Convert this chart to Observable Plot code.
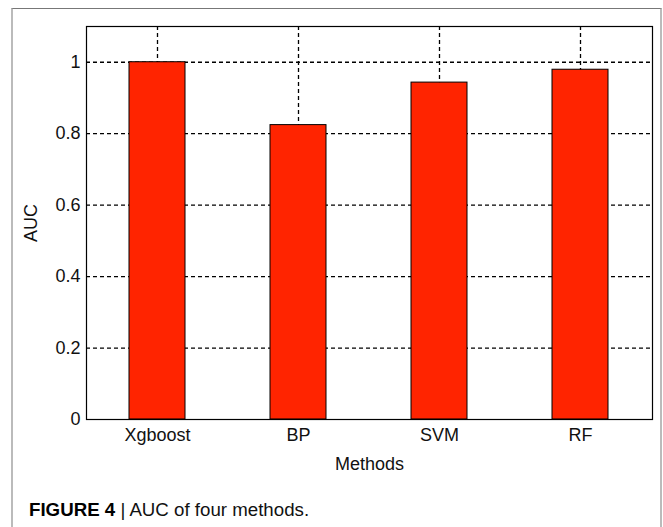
<!DOCTYPE html>
<html>
<head>
<meta charset="utf-8">
<script src="https://cdn.jsdelivr.net/npm/d3@7"></script>
<script src="https://cdn.jsdelivr.net/npm/@observablehq/plot@0.6"></script>
<style>
  html, body { margin: 0; padding: 0; background: #fff; }
  #wrap { position: relative; width: 663px; height: 527px; overflow: hidden; background: #fff; font-family: "Liberation Sans", Arial, sans-serif; }
  #box { position: absolute; left: 11px; top: 8px; width: 647px; height: 600px; border-top: 1px solid #777; border-left: 2px solid #bbb; border-right: 2px solid #bbb; }
  #chart { position: absolute; left: 0; top: 0; }
  #caption { position: absolute; left: 29px; top: 500px; font-size: 18.7px; line-height: 20px; color: #111; white-space: nowrap; }
  #caption b { color: #000; }
</style>
</head>
<body>
<div id="wrap">
  <div id="box"></div>
  <div id="chart"></div>
  <div id="caption"><b>FIGURE 4</b> | AUC of four methods.</div>
</div>
<script>
const methods = ["Xgboost", "BP", "SVM", "RF"];
const auc = [1.0, 0.824, 0.943, 0.979];
const yTicks = [0, 0.2, 0.4, 0.6, 0.8, 1];
const yTickLabels = ["0", "0.2", "0.4", "0.6", "0.8", "1"];

const data = methods.map((m, i) => ({method: m, auc: auc[i]}));

const chart = Plot.plot({
  width: 663,
  height: 480,
  marginLeft: 86,
  marginRight: 11,
  marginTop: 26,
  marginBottom: 61,
  style: {fontFamily: "'Liberation Sans', Arial, sans-serif", fontSize: "18px", color: "#111", background: "transparent"},
  x: {type: "band", domain: methods, paddingInner: 0.6, paddingOuter: 0.3},
  y: {domain: [0, 1.1]},
  marks: [
    Plot.gridY(yTicks.filter(d => d > 0), {stroke: "black", strokeOpacity: 1, strokeDasharray: "4,3", strokeWidth: 1.3}),
    Plot.gridX(methods, {stroke: "black", strokeOpacity: 1, strokeDasharray: "4,3", strokeWidth: 1.3}),
    Plot.barY(data, {x: "method", y: "auc", fill: "#ff2400", stroke: "black", strokeWidth: 1}),
    Plot.frame({stroke: "black", strokeWidth: 1.2}),
    Plot.axisY(yTicks, {tickSize: 0, tickPadding: 6, tickFormat: (d, i) => yTickLabels[i], fontSize: 18, label: "AUC", labelAnchor: "center", labelOffset: 62, labelArrow: "none"}),
    Plot.axisX(methods, {tickSize: 0, tickPadding: 9, fontSize: 18, label: "Methods", labelAnchor: "center", labelOffset: 50, labelArrow: "none"})
  ]
});
document.getElementById("chart").appendChild(chart);
</script>
</body>
</html>
